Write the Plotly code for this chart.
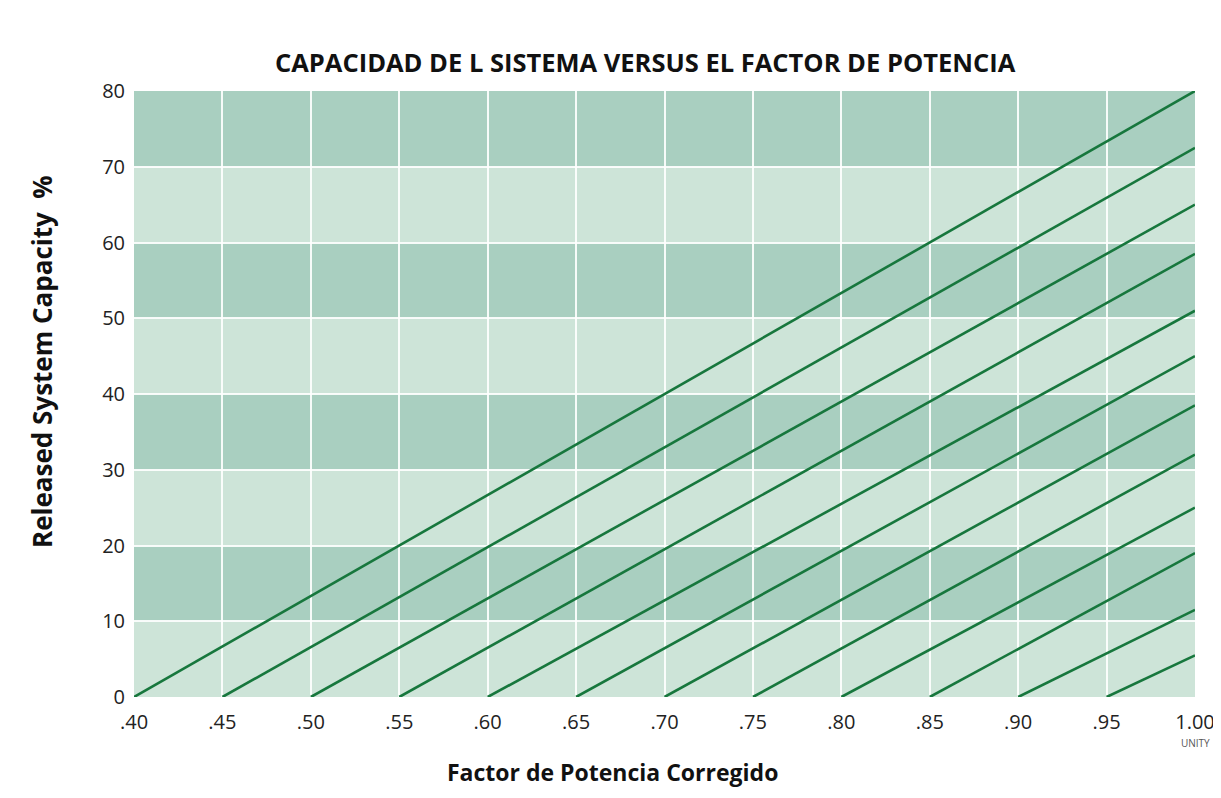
import plotly.graph_objects as go

# ---- data ----
start_pf = [0.40, 0.45, 0.50, 0.55, 0.60, 0.65, 0.70, 0.75, 0.80, 0.85, 0.90, 0.95]
end_pf = 1.00
end_capacity = [80, 72.5, 65, 58.5, 51, 45, 38.5, 32, 25, 19, 11.5, 5.5]

x_ticks = [0.40, 0.45, 0.50, 0.55, 0.60, 0.65, 0.70, 0.75, 0.80, 0.85, 0.90, 0.95, 1.00]
x_tick_labels = [".40", ".45", ".50", ".55", ".60", ".65", ".70", ".75", ".80", ".85", ".90", ".95", "1.00"]
y_ticks = [0, 10, 20, 30, 40, 50, 60, 70, 80]

dark_bands = [(10, 20), (30, 40), (50, 60), (70, 80)]

title_text = "CAPACIDAD DE L SISTEMA VERSUS EL FACTOR DE POTENCIA"
x_title = "Factor de Potencia Corregido"
y_title = "Released System Capacity  %"

DARK = "#a9cfc0"
LIGHT = "#cde4d8"
LINE = "#17773d"
FONT_BOLD = "Open Sans"

# plot area in page pixels (page body has an 8px margin)
PL, PR, PT, PB = 134, 1195, 91, 697
PW, PH = PR - PL, PB - PT


def px(xp):
    return (xp - PL) / PW


def py(yp):
    return (PB - yp) / PH


fig = go.Figure()

for s, e in zip(start_pf, end_capacity):
    fig.add_trace(go.Scatter(
        x=[s, end_pf], y=[0, e], mode="lines",
        line=dict(color=LINE, width=2.6),
        showlegend=False, hoverinfo="skip"))

shapes = []
for y0, y1 in dark_bands:
    shapes.append(dict(type="rect", xref="x", yref="y",
                       x0=x_ticks[0], x1=x_ticks[-1], y0=y0, y1=y1,
                       fillcolor=DARK, line=dict(width=0), layer="below"))

annotations = [
    dict(text=f"<b>{title_text}</b>", xref="paper", yref="paper",
         x=px(645), y=py(62), xanchor="center", yanchor="middle", showarrow=False,
         font=dict(family=FONT_BOLD, size=25.5, color="#111111")),
    dict(text=f"<b>{x_title}</b>", xref="paper", yref="paper",
         x=px(612), y=py(772), xanchor="center", yanchor="middle", showarrow=False,
         font=dict(family=FONT_BOLD, size=23, color="#111111")),
    dict(text=f"<b>{y_title}</b>", xref="paper", yref="paper",
         x=px(42), y=py(362), xanchor="center", yanchor="middle", showarrow=False,
         textangle=-90,
         font=dict(family=FONT_BOLD, size=26, color="#111111")),
    dict(text="UNITY", xref="x", yref="paper",
         x=1.00, y=py(743), xanchor="center", yanchor="middle", showarrow=False,
         font=dict(family="Open Sans", size=10, color="#555555")),
]

fig.update_layout(
    width=1221, height=798,
    margin=dict(l=PL - 8, r=1221 - PR + 8, t=PT - 8, b=798 - PB + 8),
    paper_bgcolor="white",
    plot_bgcolor=LIGHT,
    shapes=shapes,
    annotations=annotations,
    showlegend=False,
)

fig.update_xaxes(
    range=[x_ticks[0], x_ticks[-1]],
    tickmode="array", tickvals=x_ticks, ticktext=x_tick_labels,
    showgrid=True, gridcolor="rgba(255,255,255,0.9)", gridwidth=2,
    zeroline=False, showline=False,
    ticks="outside", ticklen=7, tickcolor="rgba(0,0,0,0)",
    tickfont=dict(family="Open Sans", size=20, color="#222222"),
)
fig.update_yaxes(
    range=[0, 80],
    tickmode="array", tickvals=y_ticks,
    showgrid=True, gridcolor="rgba(255,255,255,0.9)", gridwidth=2,
    zeroline=False, showline=False,
    ticks="outside", ticklen=4, tickcolor="rgba(0,0,0,0)",
    tickfont=dict(family="Open Sans", size=20, color="#222222"),
)

fig.write_html("out.html")
